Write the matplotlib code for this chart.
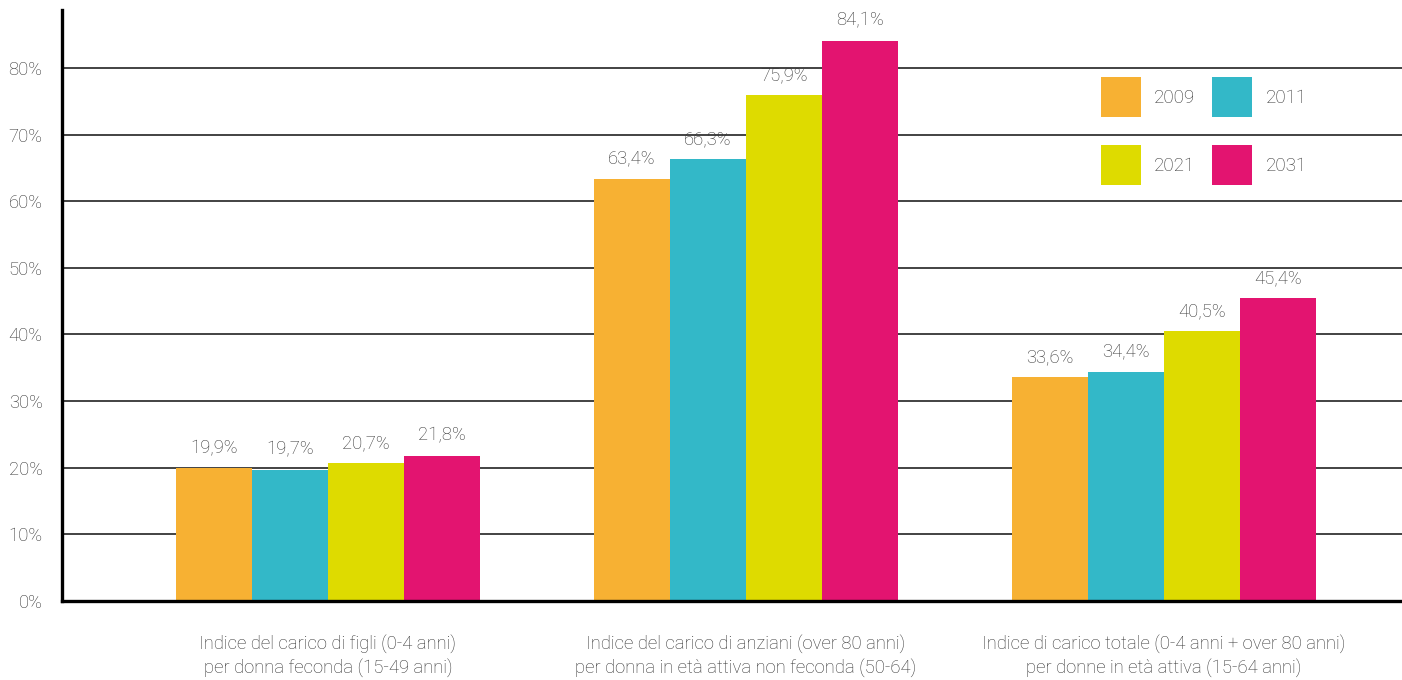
import matplotlib
matplotlib.use("Agg")
import matplotlib.pyplot as plt
import numpy as np

# data
categories = [
    "Indice del carico di figli (0-4 anni)\nper donna feconda (15-49 anni)",
    "Indice del carico di anziani (over 80 anni)\nper donna in età attiva non feconda (50-64)",
    "Indice di carico totale (0-4 anni + over 80 anni)\nper donne in età attiva (15-64 anni)",
]
years = ["2009", "2011", "2021", "2031"]
v2009 = [19.9, 63.4, 33.6]
v2011 = [19.7, 66.3, 34.4]
v2021 = [20.7, 75.9, 40.5]
v2031 = [21.8, 84.1, 45.4]
yticks = [0, 10, 20, 30, 40, 50, 60, 70, 80]

colors = ["#F7B133", "#33B8C8", "#DEDB00", "#E31470"]
series = [v2009, v2011, v2021, v2031]

plt.rcParams['font.family'] = ['Roboto', 'DejaVu Sans']
txt_color = "#333333"
fw = "light"
fs = 13.3

fig = plt.figure(figsize=(14.02, 6.8), dpi=100)
ax = fig.add_axes([0.0442, 0.1162, 0.9558, 0.8691])

x = np.arange(len(categories))
w = 0.182
bars = []
for i, (vals, c, yr) in enumerate(zip(series, colors, years)):
    pos = x + (i - 1.5) * w
    b = ax.bar(pos, vals, width=w, color=c, label=yr, zorder=3)
    bars.append(b)
    for p, v in zip(pos, vals):
        ax.annotate(("%.1f%%" % v).replace(".", ","), (p, v),
                    xytext=(0, 8), textcoords="offset points",
                    ha="center", va="bottom", fontsize=fs,
                    fontweight=fw, color=txt_color)

ax.set_xlim(-0.636, 2.569)
ax.set_ylim(0, 88.7)
ax.set_yticks(yticks)
ax.set_yticklabels(["%d%%" % t for t in yticks], fontsize=fs,
                   fontweight=fw, color=txt_color)
ax.set_xticks(x)
ax.set_xticklabels(categories, fontsize=fs, fontweight=fw,
                   color=txt_color, linespacing=1.35)
ax.tick_params(axis="both", length=0)
ax.tick_params(axis="y", pad=14)
ax.tick_params(axis="x", pad=24)

ax.yaxis.grid(True, color="#222222", linewidth=1.2, zorder=0)
ax.set_axisbelow(True)
for s in ["top", "right"]:
    ax.spines[s].set_visible(False)
for s in ["left", "bottom"]:
    ax.spines[s].set_linewidth(2.4)
    ax.spines[s].set_color("black")
    ax.spines[s].set_zorder(4)

# legend rows: 2009 2011 / 2021 2031
order = [0, 2, 1, 3]
leg = ax.legend([bars[i] for i in order], [years[i] for i in order],
                ncol=2, frameon=False, loc="upper left",
                bbox_to_anchor=(0.7625, 0.915),
                handlelength=2.15, handleheight=2.9, handletextpad=0.7,
                columnspacing=0.9, labelspacing=1.5,
                prop={"size": 13.5, "weight": fw})
for t in leg.get_texts():
    t.set_color(txt_color)

fig.savefig("out.png", dpi=100)
